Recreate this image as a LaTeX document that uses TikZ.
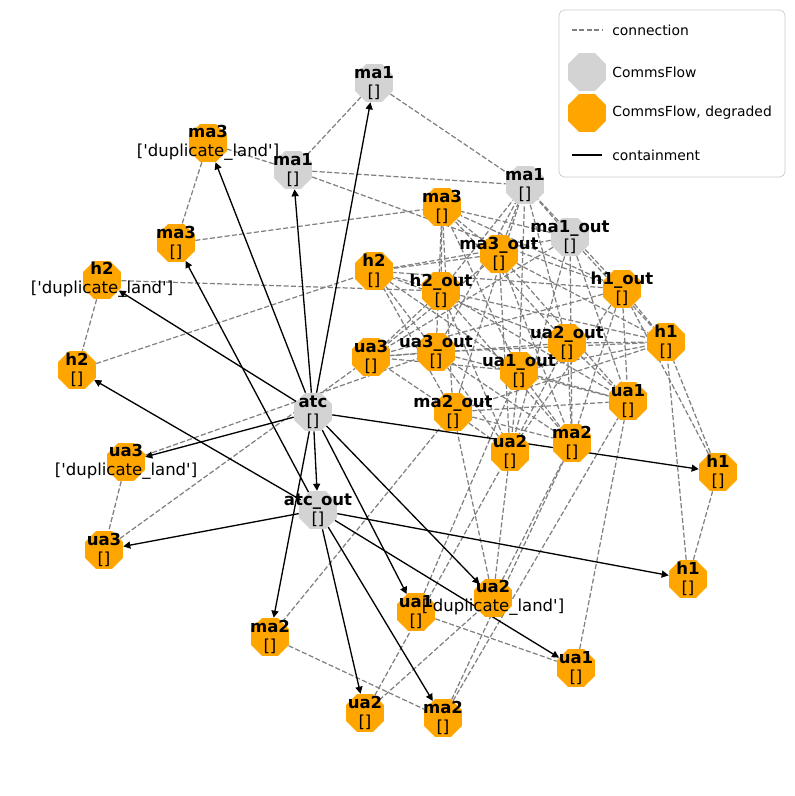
\documentclass[tikz,border=0pt]{standalone}
\usepackage{fontspec}
\setmainfont{DejaVu Sans}
\usetikzlibrary{arrows.meta,shapes.geometric,backgrounds}
\definecolor{flowgray}{HTML}{D3D3D3}
\definecolor{flowdeg}{HTML}{FFA500}
\definecolor{connline}{HTML}{808080}
\newcommand{\dupland}{[\textquotesingle duplicate\_land\textquotesingle]}

\begin{document}
\begin{tikzpicture}[
  x=0.02cm, y=-0.02cm,
  every node/.style={font=\fontsize{9.4}{10.8}\selectfont},
  flow/.style={regular polygon, regular polygon sides=8, minimum size=0.82cm, inner sep=0pt, fill=flowgray},
  degraded/.style={flow, fill=flowdeg},
  tag/.style={align=center, inner sep=0pt},
  keytext/.style={anchor=west, inner sep=0pt, font=\fontsize{7.9}{9}\selectfont},
  conn/.style={draw=connline, line width=0.7pt, dash pattern=on 2.9pt off 1.3pt},
  contain/.style={-{Triangle[length=4pt,width=4pt]}, line width=0.75pt, black},
]

\useasboundingbox (0,0) rectangle (795,796);

% flows
\node[flow] (ma1a) at (374,83) {};
\node[flow] (ma1b) at (293,170) {};
\node[flow] (ma1c) at (525,185) {};
\node[flow] (ma1o) at (570,237) {};
\node[flow] (atc) at (313,412) {};
\node[flow] (atco) at (318,510) {};

% degraded flows
\node[degraded] (ma3a) at (208,143) {};
\node[degraded] (ma3b) at (176,243) {};
\node[degraded] (ma3c) at (442,207) {};
\node[degraded] (ma3o) at (499,254) {};
\node[degraded] (h2a) at (102,280) {};
\node[degraded] (h2b) at (77,370) {};
\node[degraded] (h2c) at (374,271) {};
\node[degraded] (h2o) at (441,291) {};
\node[degraded] (h1o) at (622,289) {};
\node[degraded] (h1c) at (666,342) {};
\node[degraded] (h1a) at (718,472) {};
\node[degraded] (h1b) at (688,579) {};
\node[degraded] (ua3c) at (371,357) {};
\node[degraded] (ua3o) at (436,352) {};
\node[degraded] (ua3a) at (126,462) {};
\node[degraded] (ua3b) at (104,550) {};
\node[degraded] (ua2o) at (567,343) {};
\node[degraded] (ua1o) at (519,371) {};
\node[degraded] (ua1c) at (628,401) {};
\node[degraded] (ma2o) at (453,412) {};
\node[degraded] (ua2c) at (510,452) {};
\node[degraded] (ma2c) at (572,443) {};
\node[degraded] (ua1a) at (416,612) {};
\node[degraded] (ua1b) at (576,668) {};
\node[degraded] (ua2a) at (493,598) {};
\node[degraded] (ua2b) at (365,713) {};
\node[degraded] (ma2a) at (270,637) {};
\node[degraded] (ma2b) at (443,718) {};

\begin{scope}[on background layer]
% connections
\draw[conn] (ma1a) -- (ma1b);
\draw[conn] (ma1a) -- (ma1c);
\draw[conn] (ma1b) -- (ma3a);
\draw[conn] (ma1b) -- (ma1c);
\draw[conn] (ma1b) -- (h1o);
\draw[conn] (ma3a) -- (ma3b);
\draw[conn] (ma3b) -- (ma3c);
\draw[conn] (h2a) -- (h2b);
\draw[conn] (h2a) -- (h2o);
\draw[conn] (h2b) -- (h2c);
\draw[conn] (ua3a) -- (ua3b);
\draw[conn] (ua3a) -- (ua3o);
\draw[conn] (ua3b) -- (ua3c);
\draw[conn] (ma2a) -- (ma2b);
\draw[conn] (ma2a) -- (ma2o);
\draw[conn] (ua1a) -- (ua1b);
\draw[conn] (ua1a) -- (ua1o);
\draw[conn] (ua1b) -- (ua1c);
\draw[conn] (ua2b) -- (ua2a);
\draw[conn] (ua2b) -- (ua2c);
\draw[conn] (ma2b) -- (ma2c);
\draw[conn] (ma2b) -- (ua1c);
\draw[conn] (ua2a) -- (ma2c);
\draw[conn] (ua2a) -- (ua2c);
\draw[conn] (ua2a) -- (ma2o);
\draw[conn] (h1a) -- (h1c);
\draw[conn] (h1a) -- (h1o);
\draw[conn] (h1b) -- (h1c);
\draw[conn] (h1b) -- (h1a);
\draw[conn] (ma1o) edge (ma1c) edge (ma3c) edge (h2c) edge (h1c) edge (ua3c) edge (ua1c) edge (ua2c) edge (ma2c);
\draw[conn] (ma3o) edge (ma1c) edge (ma3c) edge (h2c) edge (h1c) edge (ua3c) edge (ua1c) edge (ua2c) edge (ma2c);
\draw[conn] (h2o) edge (ma1c) edge (ma3c) edge (h2c) edge (h1c) edge (ua3c) edge (ua1c) edge (ua2c) edge (ma2c);
\draw[conn] (h1o) edge (ma1c) edge (ma3c) edge (h2c) edge (h1c) edge (ua3c) edge (ua1c) edge (ua2c) edge (ma2c);
\draw[conn] (ua3o) edge (ma1c) edge (ma3c) edge (h2c) edge (h1c) edge (ua3c) edge (ua1c) edge (ua2c) edge (ma2c);
\draw[conn] (ua2o) edge (ma1c) edge (ma3c) edge (h2c) edge (h1c) edge (ua3c) edge (ua1c) edge (ua2c) edge (ma2c);
\draw[conn] (ua1o) edge (ma1c) edge (ma3c) edge (h2c) edge (h1c) edge (ua3c) edge (ua1c) edge (ua2c) edge (ma2c);
\draw[conn] (ma2o) edge (ma1c) edge (ma3c) edge (h2c) edge (h1c) edge (ua3c) edge (ua1c) edge (ua2c) edge (ma2c);

% containment
\draw[contain] (atc) -- (ma1a);
\draw[contain] (atc) -- (ma1b);
\draw[contain] (atc) -- (ma3a);
\draw[contain] (atc) -- (h2a);
\draw[contain] (atc) -- (ua3a);
\draw[contain] (atc) -- (h1a);
\draw[contain] (atc) -- (ua2a);
\draw[contain] (atc) -- (ua1a);
\draw[contain] (atc) -- (ma2a);
\draw[contain] (atc) -- (atco);
\draw[contain] (atco) -- (ma3b);
\draw[contain] (atco) -- (h2b);
\draw[contain] (atco) -- (ua3b);
\draw[contain] (atco) -- (h1b);
\draw[contain] (atco) -- (ua1b);
\draw[contain] (atco) -- (ma2b);
\draw[contain] (atco) -- (ua2b);
\end{scope}

% labels
\node[tag] (ma1a-t) at (ma1a) {\textbf{ma1}\\{[]}};
\node[tag] (ma1b-t) at (ma1b) {\textbf{ma1}\\{[]}};
\node[tag] (ma1c-t) at (ma1c) {\textbf{ma1}\\{[]}};
\node[tag] (ma1o-t) at (ma1o) {\textbf{ma1\_out}\\{[]}};
\node[tag] (atc-t) at (atc) {\textbf{atc}\\{[]}};
\node[tag] (atco-t) at (atco) {\textbf{atc\_out}\\{[]}};
\node[tag] (ma3a-t) at (ma3a) {\textbf{ma3}\\\dupland};
\node[tag] (ma3b-t) at (ma3b) {\textbf{ma3}\\{[]}};
\node[tag] (ma3c-t) at (ma3c) {\textbf{ma3}\\{[]}};
\node[tag] (ma3o-t) at (ma3o) {\textbf{ma3\_out}\\{[]}};
\node[tag] (h2a-t) at (h2a) {\textbf{h2}\\\dupland};
\node[tag] (h2b-t) at (h2b) {\textbf{h2}\\{[]}};
\node[tag] (h2c-t) at (h2c) {\textbf{h2}\\{[]}};
\node[tag] (h2o-t) at (h2o) {\textbf{h2\_out}\\{[]}};
\node[tag] (h1o-t) at (h1o) {\textbf{h1\_out}\\{[]}};
\node[tag] (h1c-t) at (h1c) {\textbf{h1}\\{[]}};
\node[tag] (h1a-t) at (h1a) {\textbf{h1}\\{[]}};
\node[tag] (h1b-t) at (h1b) {\textbf{h1}\\{[]}};
\node[tag] (ua3c-t) at (ua3c) {\textbf{ua3}\\{[]}};
\node[tag] (ua3o-t) at (ua3o) {\textbf{ua3\_out}\\{[]}};
\node[tag] (ua3a-t) at (ua3a) {\textbf{ua3}\\\dupland};
\node[tag] (ua3b-t) at (ua3b) {\textbf{ua3}\\{[]}};
\node[tag] (ua2o-t) at (ua2o) {\textbf{ua2\_out}\\{[]}};
\node[tag] (ua1o-t) at (ua1o) {\textbf{ua1\_out}\\{[]}};
\node[tag] (ua1c-t) at (ua1c) {\textbf{ua1}\\{[]}};
\node[tag] (ma2o-t) at (ma2o) {\textbf{ma2\_out}\\{[]}};
\node[tag] (ua2c-t) at (ua2c) {\textbf{ua2}\\{[]}};
\node[tag] (ma2c-t) at (ma2c) {\textbf{ma2}\\{[]}};
\node[tag] (ua1a-t) at (ua1a) {\textbf{ua1}\\{[]}};
\node[tag] (ua1b-t) at (ua1b) {\textbf{ua1}\\{[]}};
\node[tag] (ua2a-t) at (ua2a) {\textbf{ua2}\\\dupland};
\node[tag] (ua2b-t) at (ua2b) {\textbf{ua2}\\{[]}};
\node[tag] (ma2a-t) at (ma2a) {\textbf{ma2}\\{[]}};
\node[tag] (ma2b-t) at (ma2b) {\textbf{ma2}\\{[]}};

% legend
\node[draw=black!20, fill=white, rounded corners=3pt, minimum width=4.52cm, minimum height=3.34cm, inner sep=0pt] (legend) at (672,93.5) {};
\coordinate (key-conn-l) at (572,30);
\coordinate (key-conn-r) at (602,30);
\draw[conn] (key-conn-l) -- (key-conn-r);
\node[flow] (key-flow) at (587,72) {};
\node[degraded] (key-deg) at (587,113) {};
\coordinate (key-cont-l) at (572,155);
\coordinate (key-cont-r) at (602,155);
\draw[line width=0.75pt] (key-cont-l) -- (key-cont-r);
\node[keytext] (key-conn-t) at (612,30) {connection};
\node[keytext] (key-flow-t) at (612,72) {CommsFlow};
\node[keytext] (key-deg-t) at (612,113) {CommsFlow, degraded};
\node[keytext] (key-cont-t) at (612,155) {containment};

\end{tikzpicture}
\end{document}
